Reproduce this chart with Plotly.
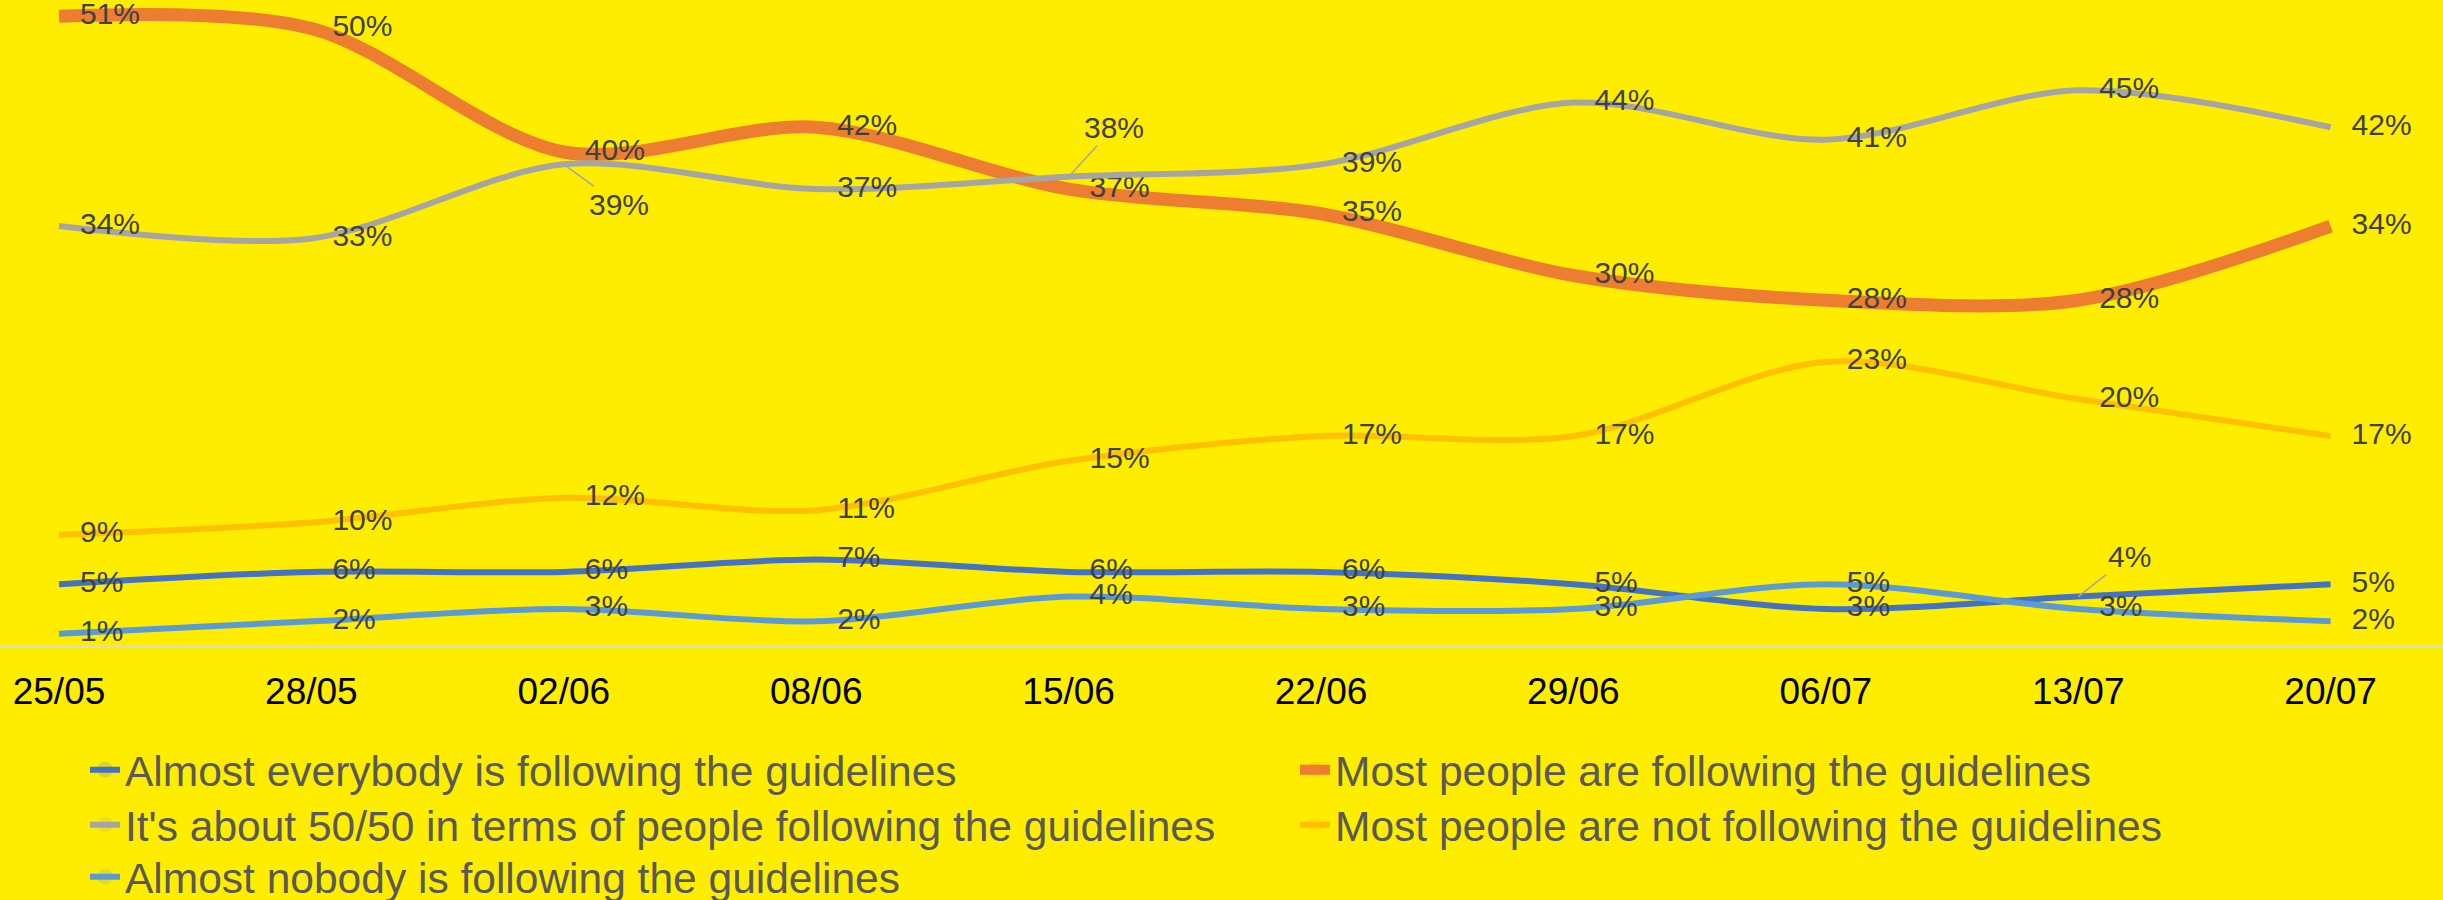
import plotly.graph_objects as go

dates = ["25/05", "28/05", "02/06", "08/06", "15/06", "22/06", "29/06", "06/07", "13/07", "20/07"]

almost_everybody = [5, 6, 6, 7, 6, 6, 5, 3, 4, 5]
most_following = [51, 50, 40, 42, 37, 35, 30, 28, 28, 34]
fifty_fifty = [34, 33, 39, 37, 38, 39, 44, 41, 45, 42]
most_not_following = [9, 10, 12, 11, 15, 17, 17, 23, 20, 17]
almost_nobody = [1, 2, 3, 2, 4, 3, 3, 5, 3, 2]

names = [
    "Almost everybody is following the guidelines",
    "Most people are following the guidelines",
    "It's about 50/50 in terms of people following the guidelines",
    "Most people are not following the guidelines",
    "Almost nobody is following the guidelines",
]
series = [almost_everybody, most_following, fifty_fifty, most_not_following, almost_nobody]
colors = ["#4472C4", "#ED7D31", "#A5A5A5", "#FFC000", "#5B9BD5"]
widths = [6, 13, 6, 6, 6]

# legend grid placement (column, row) for each series, as in the original layout
legend_cells = [(0, 0), (1, 0), (0, 1), (1, 1), (0, 2)]

# labels shown with leader lines instead of beside the point: (series index, point index) -> offset
leader = {(2, 2): (55, 40), (2, 4): (45, -49), (0, 8): (51, -40)}

FONT = "Liberation Sans, Arial, sans-serif"
xs = list(range(len(dates)))

W, H = 2443, 900
px_per_cat = 252.4
x0 = 59
plot_h = 646
col_x = [85, 1295]
row_y = [770, 825, 877]

fig = go.Figure()
legend_layouts = {}
for si, (name, vals, col, w) in enumerate(zip(names, series, colors, widths)):
    texts = ["" if (si, pi) in leader else f"{v}%" for pi, v in enumerate(vals)]
    lg = "legend" if si == 0 else f"legend{si + 1}"
    c, r = legend_cells[si]
    legend_layouts[lg] = dict(
        x=col_x[c] / W, xanchor="left",
        y=(plot_h - row_y[r]) / plot_h, yanchor="middle",
        orientation="v", bgcolor="rgba(0,0,0,0)",
        font=dict(family=FONT, size=42.5, color="#595959"),
    )
    fig.add_trace(go.Scatter(
        x=xs, y=vals, name=name, legend=lg,
        mode="lines+markers+text",
        line=dict(color=col, width=w, shape="spline", smoothing=0.9),
        marker=dict(size=32, opacity=0, color=col),
        text=texts, textposition="middle right",
        textfont=dict(family=FONT, size=30, color="#404040"),
        cliponaxis=False, hoverinfo="skip",
    ))

for (si, pi), (ax, ay) in leader.items():
    v = series[si][pi]
    fig.add_annotation(
        x=xs[pi], y=v, text=f"{v}%", showarrow=True, arrowhead=0,
        arrowwidth=1.5, arrowcolor="#A6A6A6", ax=ax, ay=ay,
        font=dict(family=FONT, size=30, color="#404040"),
    )

fig.update_layout(
    width=W, height=H,
    margin=dict(l=0, r=0, t=0, b=H - plot_h, autoexpand=False),
    paper_bgcolor="#FFED00", plot_bgcolor="#FFED00",
    showlegend=True,
    xaxis=dict(
        range=[-x0 / px_per_cat, (W - x0) / px_per_cat],
        tickvals=xs, ticktext=dates,
        showgrid=False, zeroline=False,
        showline=True, linecolor="#D9D9D9", linewidth=2,
        tickfont=dict(family=FONT, size=37, color="#000000"),
        ticklabelstandoff=12,
    ),
    yaxis=dict(range=[0, plot_h / 12.35], visible=False, showgrid=False, zeroline=False),
    **legend_layouts,
)

fig.write_html(
    "out.html",
    config={"displayModeBar": False},
    post_script="document.body.style.margin='0';document.body.style.overflow='hidden';",
)
